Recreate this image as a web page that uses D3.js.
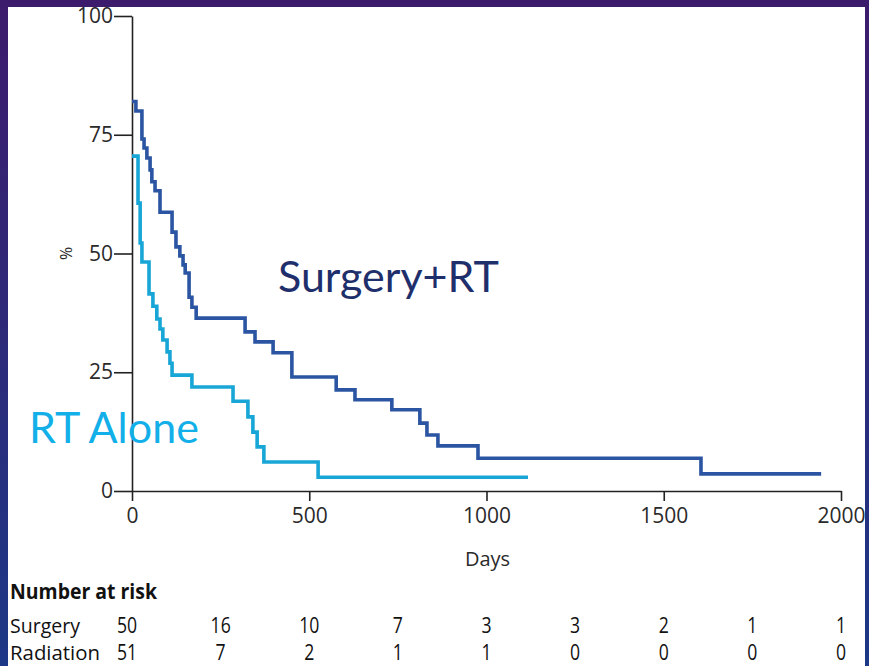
<!DOCTYPE html>
<html>
<head>
<meta charset="utf-8">
<script src="https://cdn.jsdelivr.net/npm/d3@7"></script>
<style>
  body { margin: 0; padding: 0; overflow: hidden; }
  svg { display: block; }
</style>
</head>
<body>
<div id="km-chart"></div>
<script>
// survival steps (days, % surviving)
var surgeryDays = [0, 11, 28, 34, 42, 51, 56, 65, 79, 113, 124, 135, 144, 150, 161, 169, 181,
    319, 347, 398, 451, 576, 629, 733, 812, 832, 863, 976, 1605, 1944];
var surgeryPct = [82, 80, 74.1, 72.2, 70.1, 67.6, 65.1, 63.2, 58.7, 54.5, 51.4, 49.5, 47.6, 45.9, 40.8, 38.7, 36.4,
    33.5, 31.4, 29.1, 24.0, 21.3, 19.2, 17.1, 14.3, 11.8, 9.5, 6.9, 3.6, 3.6];

var radiationDays = [0, 17, 23, 28, 48, 59, 70, 79, 87, 99, 107, 113, 169, 285, 327, 341, 353, 372, 525, 1117];
var radiationPct = [70.5, 60.6, 52.2, 48.2, 41.5, 38.9, 36.2, 34.1, 31.8, 29.3, 26.9, 24.4, 21.9, 18.9, 15.6, 12.4, 9.3, 6.1, 2.9, 2.9];

// number at risk table
var riskTimes = [0, 250, 500, 750, 1000, 1250, 1500, 1750, 2000];
var surgeryRisk = [50, 16, 10, 7, 3, 3, 2, 1, 1];
var radiationRisk = [51, 7, 2, 1, 1, 0, 0, 0, 0];

var xTicks = [0, 500, 1000, 1500, 2000];
var yTicks = [0, 25, 50, 75, 100];

var W = 869, H = 666;
var margin = {top: 16, left: 132},
    width = 709,
    height = 475;

var svg = d3.select("#km-chart")
    .append("svg")
    .attr("width", W)
    .attr("height", H);

// slide background
var grad = svg.append("defs").append("linearGradient")
    .attr("id", "bg").attr("x1", 0).attr("y1", 0).attr("x2", 0).attr("y2", 1);
grad.append("stop").attr("offset", "0%").attr("stop-color", "#3d1b6c");
grad.append("stop").attr("offset", "100%").attr("stop-color", "#1c3886");
svg.append("rect").attr("width", W).attr("height", H).attr("fill", "url(#bg)");
svg.append("rect").attr("x", 8).attr("y", 7).attr("width", 857).attr("height", H).attr("fill", "#fff");

var g = svg.append("g")
    .attr("transform", "translate(" + margin.left + "," + margin.top + ")");

var x = d3.scaleLinear().domain([0, 2000]).range([0, width]);
var y = d3.scaleLinear().domain([0, 100]).range([height, 0]);

var tickFont = "'Open Sans', sans-serif";

// Y axis
var yAxis = g.append("g")
    .call(d3.axisLeft(y).tickValues(yTicks).tickSize(18).tickSizeOuter(0).tickPadding(1));
// X axis
var xAxis = g.append("g")
    .attr("transform", "translate(0," + height + ")")
    .call(d3.axisBottom(x).tickValues(xTicks).tickFormat(d3.format("d"))
        .tickSize(10).tickSizeOuter(0).tickPadding(7));

[xAxis, yAxis].forEach(function (a) {
    a.selectAll("path, line").attr("stroke", "#222").attr("stroke-width", 1.6);
    a.selectAll("text").attr("fill", "#2a2a2a")
        .style("font-family", tickFont).style("font-size", "21px");
});

// axis titles
g.append("text")
    .attr("transform", "translate(-60," + y(50) + ") rotate(-90)")
    .attr("text-anchor", "middle")
    .style("font-family", tickFont).style("font-size", "16px")
    .attr("fill", "#2a2a2a")
    .text("%");

g.append("text")
    .attr("x", x(1000) + 1)
    .attr("y", height + 75)
    .attr("text-anchor", "middle")
    .style("font-family", tickFont).style("font-size", "20px")
    .attr("fill", "#2a2a2a")
    .text("Days");

// KM curves
var line = d3.line()
    .x(function (d) { return x(d[0]); })
    .y(function (d) { return y(d[1]); })
    .curve(d3.curveStepAfter);

var curves = [
    {name: "Surgery", days: surgeryDays, pct: surgeryPct, color: "#2b55a2"},
    {name: "Radiation", days: radiationDays, pct: radiationPct, color: "#18a6d6"}
];

g.selectAll(".km")
    .data(curves)
    .enter()
    .append("path")
    .attr("class", "km")
    .attr("fill", "none")
    .attr("stroke", function (d) { return d.color; })
    .attr("stroke-width", 3.6)
    .attr("d", function (d) {
        return line(d.days.map(function (t, i) { return [t, d.pct[i]]; }));
    });

// group labels
svg.append("text")
    .attr("x", 278).attr("y", 292)
    .style("font-family", "Lato, sans-serif").style("font-size", "43px")
    .attr("fill", "#1f2f6c")
    .text("Surgery+RT");

svg.append("text")
    .attr("x", 29).attr("y", 443)
    .style("font-family", "Lato, sans-serif").style("font-size", "43px")
    .attr("fill", "#12afe9")
    .text("RT Alone");

// Number at risk (condensed look)
var tableFont = "'Open Sans', sans-serif";

svg.append("text")
    .attr("x", 10).attr("y", 599)
    .attr("textLength", 147).attr("lengthAdjust", "spacingAndGlyphs")
    .style("font-family", tableFont).style("font-size", "22px").style("font-weight", "bold")
    .attr("fill", "#111")
    .text("Number at risk");

var rows = [
    {label: "Surgery", values: surgeryRisk, y: 633, len: 70},
    {label: "Radiation", values: radiationRisk, y: 660, len: 90}
];

rows.forEach(function (r) {
    svg.append("text")
        .attr("x", 10).attr("y", r.y)
        .attr("textLength", r.len).attr("lengthAdjust", "spacingAndGlyphs")
        .style("font-family", tableFont).style("font-size", "20px")
        .attr("fill", "#111")
        .text(r.label);

    svg.selectAll(null)
        .data(r.values)
        .enter()
        .append("text")
        .attr("transform", function (d, i) {
            var px = margin.left + x(riskTimes[i]) + (i === 0 ? -5 : 0);
            return "translate(" + px + "," + r.y + ") scale(0.8,1)";
        })
        .attr("text-anchor", "middle")
        .style("font-family", tableFont).style("font-size", "22px")
        .attr("fill", "#111")
        .text(function (d) { return d; });
});
</script>
</body>
</html>
